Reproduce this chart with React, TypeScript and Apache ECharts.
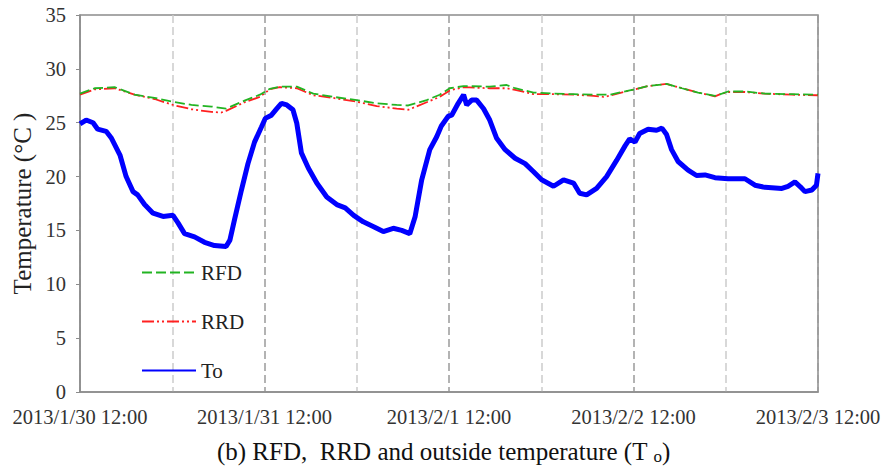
import React, { useEffect, useRef } from "react";
import * as echarts from "echarts";

// Hours elapsed since 2013/1/30 12:00
const toHours = [0, 0.8, 1.7, 2.3, 3.4, 4.1, 5.2, 6.0, 6.9, 7.5, 8.4, 9.5, 10.8, 12.1, 12.75, 13.6, 14.9, 16.2, 17.5, 19.0, 19.5, 20.1, 21.0, 21.85, 22.7, 23.6, 24.1, 24.9, 25.6, 26.2, 26.9, 27.7, 28.2, 28.8, 29.7, 30.8, 32.1, 33.4, 34.5, 35.6, 36.85, 38.2, 39.45, 40.75, 41.85, 42.9, 43.6, 44.45, 45.5, 46.4, 47.0, 47.9, 48.35, 49.2, 49.9, 50.3, 50.95, 51.6, 52.5, 53.3, 54.2, 55.3, 56.6, 57.9, 59.0, 60.05, 61.6, 62.9, 64.2, 65.0, 65.9, 67.2, 68.5, 69.8, 70.9, 71.5, 72.2, 72.8, 73.9, 75.0, 75.7, 76.3, 76.95, 77.8, 79.1, 80.2, 81.3, 82.6, 84.3, 86.5, 87.8, 89.1, 91.3, 92.1, 93.0, 93.7, 94.3, 95.2, 95.8, 96.0];
const toValues = [24.9, 25.25, 25.0, 24.4, 24.2, 23.55, 22.0, 20.0, 18.6, 18.3, 17.4, 16.6, 16.3, 16.4, 15.7, 14.7, 14.4, 13.9, 13.6, 13.5, 14.1, 16.0, 18.75, 21.2, 23.2, 24.6, 25.4, 25.7, 26.3, 26.8, 26.65, 26.2, 24.95, 22.2, 20.8, 19.4, 18.1, 17.4, 17.1, 16.4, 15.8, 15.35, 14.9, 15.2, 15.0, 14.7, 16.3, 19.7, 22.5, 23.7, 24.7, 25.6, 25.7, 26.8, 27.6, 26.65, 27.1, 27.1, 26.3, 25.25, 23.55, 22.5, 21.7, 21.2, 20.45, 19.7, 19.1, 19.7, 19.4, 18.45, 18.3, 18.9, 20.0, 21.5, 22.85, 23.5, 23.2, 24.0, 24.4, 24.3, 24.5, 23.9, 22.5, 21.4, 20.6, 20.1, 20.15, 19.9, 19.8, 19.8, 19.2, 19.0, 18.9, 19.1, 19.5, 19.05, 18.6, 18.75, 19.2, 20.3];

const rfdHours = [0, 1.9, 4.5, 7.1, 9.7, 12.1, 14.5, 17.1, 19.0, 21.4, 23.4, 24.7, 26.0, 28.2, 30.35, 32.95, 36.0, 38.6, 41.2, 42.7, 45.1, 46.8, 48.1, 49.9, 53.3, 55.5, 56.6, 59.0, 61.6, 64.2, 66.8, 68.9, 71.5, 72.2, 73.9, 76.3, 78.3, 80.4, 82.6, 83.5, 84.3, 86.5, 89.1, 92.6, 96];
const rfdValues = [27.7, 28.2, 28.3, 27.6, 27.3, 26.95, 26.65, 26.5, 26.3, 27.05, 27.6, 28.15, 28.35, 28.35, 27.7, 27.4, 27.1, 26.8, 26.65, 26.6, 27.1, 27.6, 28.2, 28.4, 28.35, 28.5, 28.2, 27.8, 27.7, 27.65, 27.6, 27.6, 28.0, 28.1, 28.4, 28.6, 28.2, 27.8, 27.5, 27.7, 27.9, 27.9, 27.7, 27.65, 27.6];

const rrdHours = [0, 1.9, 4.5, 7.1, 9.7, 12.1, 14.5, 17.1, 18.4, 19.0, 21.4, 23.4, 24.7, 26.0, 28.2, 30.35, 32.95, 36.0, 38.6, 41.2, 42.7, 45.1, 46.8, 48.1, 49.9, 53.3, 55.5, 56.6, 59.0, 61.6, 64.2, 66.8, 68.1, 68.9, 71.5, 72.2, 73.9, 76.3, 78.3, 80.4, 82.6, 83.5, 84.3, 86.5, 89.1, 92.6, 96];
const rrdValues = [27.6, 28.1, 28.2, 27.6, 27.2, 26.65, 26.25, 26.0, 25.95, 26.1, 26.9, 27.4, 28.1, 28.3, 28.2, 27.55, 27.3, 26.95, 26.55, 26.3, 26.2, 26.9, 27.4, 28.0, 28.3, 28.2, 28.2, 28.05, 27.65, 27.65, 27.6, 27.5, 27.4, 27.5, 28.0, 28.1, 28.4, 28.6, 28.2, 27.8, 27.45, 27.7, 27.85, 27.85, 27.7, 27.6, 27.55];

const seriesNames = ["RFD", "RRD", "To"];
const startTime = Date.UTC(2013, 0, 30, 12, 0);
const yMin = 0;
const yMax = 35;
const yStep = 5;
const xMin = 0;
const xMax = 96;
const xStep = 12;
const yAxisTitle = "Temperature (°C )";
const captionText = "(b) RFD,  RRD and outside temperature (T {s|o})";

const pairs = (h: number[], v: number[]) => h.map((x, i) => [x, v[i]]);

const fmtHour = (h: number) => {
  if (h % 24 !== 0) return "";
  const d = new Date(startTime + h * 3600 * 1000);
  return `${d.getUTCFullYear()}/${d.getUTCMonth() + 1}/${d.getUTCDate()} 12:00`;
};

const FONT = "'Liberation Serif', 'Times New Roman', serif";

export default function App() {
  const ref = useRef<HTMLDivElement>(null);
  useEffect(() => {
    if (!ref.current) return;
    const chart = echarts.init(ref.current, undefined, { renderer: "svg" });
    chart.setOption({
      animation: false,
      backgroundColor: "#ffffff",
      title: {
        text: captionText,
        left: "center",
        top: 433,
        textStyle: {
          fontFamily: FONT,
          fontSize: 25,
          fontWeight: "normal",
          color: "#111",
          rich: {
            s: { fontFamily: FONT, fontSize: 17, color: "#111", padding: [10, 0, 0, 0] },
          },
        },
      },
      grid: {
        left: 80,
        right: 69,
        top: 15,
        bottom: 78,
        show: true,
        borderColor: "#8c8c8c",
        borderWidth: 1.5,
      },
      legend: {
        data: seriesNames,
        orient: "vertical",
        left: 136,
        top: 257,
        itemWidth: 54,
        itemHeight: 20,
        itemGap: 28,
        itemStyle: { opacity: 0, color: "transparent", borderWidth: 0 },
        textStyle: { fontFamily: FONT, fontSize: 21, color: "#222" },
      },
      xAxis: {
        type: "value",
        min: xMin,
        max: xMax,
        interval: xStep,
        axisLine: { show: true, lineStyle: { color: "#8c8c8c", width: 1.5 } },
        axisTick: { show: false },
        axisLabel: {
          formatter: (v: number) => fmtHour(v),
          fontFamily: FONT,
          fontSize: 20.5,
          color: "#333",
          margin: 14,
          showMinLabel: true,
          showMaxLabel: true,
        },
        splitLine: {
          show: true,
          lineStyle: { color: ["#9a9a9a", "#cccccc"], type: [8, 4], width: 1.5 },
        },
      },
      yAxis: {
        type: "value",
        min: yMin,
        max: yMax,
        interval: yStep,
        name: yAxisTitle,
        nameLocation: "middle",
        nameGap: 44,
        nameTextStyle: { fontFamily: FONT, fontSize: 25, color: "#222" },
        axisLine: { show: true, lineStyle: { color: "#8c8c8c", width: 1.5 } },
        axisTick: { show: true, length: 4, lineStyle: { color: "#8c8c8c" } },
        axisLabel: { fontFamily: FONT, fontSize: 20.5, color: "#333", margin: 14 },
        splitLine: { show: false },
      },
      series: [
        {
          name: "RRD",
          type: "line",
          data: pairs(rrdHours, rrdValues),
          symbol: "none",
          z: 3,
          lineStyle: { color: "#ff2020", width: 1.8, type: [12, 3, 2, 3, 2, 3] },
          itemStyle: { color: "#ff2020" },
        },
        {
          name: "RFD",
          type: "line",
          data: pairs(rfdHours, rfdValues),
          symbol: "none",
          z: 4,
          lineStyle: { color: "#22b422", width: 1.8, type: [10, 4] },
          itemStyle: { color: "#22b422" },
        },
        {
          name: "To",
          type: "line",
          data: pairs(toHours, toValues),
          symbol: "none",
          z: 5,
          lineStyle: { color: "#0000ff", width: 5 },
          itemStyle: { color: "#0000ff" },
        },
      ],
    });
    return () => chart.dispose();
  }, []);
  return (
    <div
      ref={ref}
      style={{ position: "fixed", left: 0, top: 0, width: 887, height: 470 }}
    />
  );
}
